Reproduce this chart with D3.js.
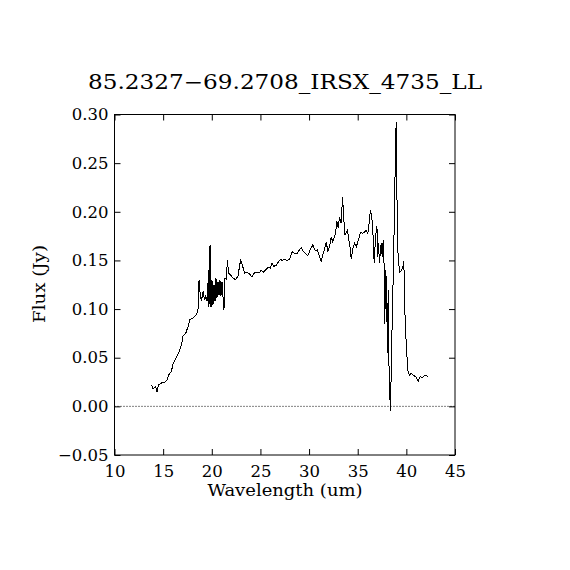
<!DOCTYPE html>
<html>
<head>
<meta charset="utf-8">
<script src="https://cdn.jsdelivr.net/npm/d3@7"></script>
<style>
  html, body { margin: 0; padding: 0; background: #fff; }
  svg text { font-family: "DejaVu Serif", "Liberation Serif", serif; fill: #000; }
</style>
</head>
<body>
<svg id="chart" width="570" height="570"></svg>
<script>
// Spectrum (wavelength in um, flux in Jy)
const wavelength = [
  13.83, 13.96, 14.24, 14.37, 14.52, 14.83, 15.16, 15.40, 15.61, 15.85,
  16.02, 16.37, 16.63, 16.88, 17.04, 17.32, 17.56, 17.73, 18.07, 18.42,
  18.58, 18.69, 18.83, 18.93, 19.10, 19.27, 19.37, 19.51, 19.68, 19.71,
  19.82, 19.92, 20.02, 20.12, 20.23, 20.33, 20.43, 20.53, 20.64, 20.74,
  20.84, 20.94, 21.05, 21.15, 21.25, 21.36, 21.50, 21.60, 21.73, 21.94,
  22.18, 22.45, 22.69, 22.97, 23.14, 23.38, 23.61, 23.89, 24.13, 24.37,
  24.61, 24.85, 25.09, 25.33, 25.60, 25.84, 26.00, 26.18, 26.39, 26.63,
  26.87, 27.04, 27.25, 27.48, 27.72, 28.00, 28.27, 28.51, 28.75, 28.95,
  29.20, 29.43, 29.64, 29.88, 30.12, 30.39, 30.64, 30.84, 31.00, 31.25,
  31.42, 31.60, 31.77, 31.93, 32.10, 32.28, 32.44, 32.55, 32.72, 32.86,
  33.00, 33.13, 33.30, 33.44, 33.54, 33.68, 33.82, 33.95, 34.09, 34.23,
  34.33, 34.50, 34.67, 34.85, 35.01, 35.29, 35.52, 35.70, 35.87, 36.04,
  36.14, 36.31, 36.45, 36.59, 36.69, 36.80, 36.93, 37.00, 37.06, 37.13,
  37.24, 37.34, 37.44, 37.51, 37.62, 37.72, 37.78, 37.88, 37.96, 38.06,
  38.13, 38.23, 38.29, 38.37, 38.44, 38.54, 38.64, 38.71, 38.81, 38.87,
  38.95, 39.01, 39.08, 39.16, 39.34, 39.50, 39.67, 39.74, 39.78, 39.84,
  39.98, 40.15, 40.32, 40.49, 40.73, 41.00, 41.24, 41.42, 41.62, 41.86,
  42.20
];
const flux = [
  0.022, 0.018, 0.020, 0.015, 0.022, 0.024, 0.025, 0.027, 0.033, 0.036,
  0.044, 0.051, 0.056, 0.063, 0.072, 0.075, 0.082, 0.089, 0.091, 0.094,
  0.099, 0.130, 0.113, 0.108, 0.118, 0.109, 0.114, 0.108, 0.140, 0.102,
  0.166, 0.102, 0.130, 0.104, 0.125, 0.108, 0.132, 0.111, 0.128, 0.114,
  0.130, 0.113, 0.128, 0.113, 0.099, 0.132, 0.131, 0.150, 0.137, 0.135,
  0.132, 0.130, 0.134, 0.151, 0.145, 0.137, 0.138, 0.136, 0.133, 0.137,
  0.138, 0.137, 0.140, 0.138, 0.141, 0.143, 0.142, 0.147, 0.144, 0.145,
  0.149, 0.151, 0.150, 0.151, 0.150, 0.151, 0.159, 0.157, 0.157, 0.160,
  0.163, 0.159, 0.157, 0.155, 0.161, 0.166, 0.160, 0.161, 0.156, 0.149,
  0.156, 0.162, 0.169, 0.159, 0.164, 0.174, 0.169, 0.173, 0.178, 0.190,
  0.183, 0.195, 0.188, 0.215, 0.198, 0.176, 0.179, 0.181, 0.171, 0.162,
  0.152, 0.162, 0.168, 0.164, 0.169, 0.179, 0.178, 0.179, 0.181, 0.178,
  0.185, 0.202, 0.195, 0.174, 0.147, 0.168, 0.185, 0.181, 0.154, 0.168,
  0.147, 0.162, 0.168, 0.154, 0.171, 0.142, 0.085, 0.140, 0.123, 0.055,
  0.120, 0.031, 0.013, -0.005, 0.034, 0.085, 0.130, 0.164, 0.220, 0.257,
  0.292, 0.233, 0.185, 0.150, 0.138, 0.140, 0.144, 0.149, 0.130, 0.099,
  0.065, 0.037, 0.032, 0.034, 0.032, 0.030, 0.026, 0.031, 0.029, 0.032,
  0.031
];

const xTicks = [10, 15, 20, 25, 30, 35, 40, 45];
const yTicks = [-0.05, 0.00, 0.05, 0.10, 0.15, 0.20, 0.25, 0.30];

const title = '85.2327\u221269.2708_IRSX_4735_LL';
const xLabel = 'Wavelength (um)';
const yLabel = 'Flux (Jy)';

const margin = { top: 114.5, right: 115, bottom: 115, left: 114.5 };
const W = 570, H = 570;
const width = W - margin.left - margin.right;
const height = H - margin.top - margin.bottom;

const x = d3.scaleLinear().domain([10, 45]).range([0, width]);
const y = d3.scaleLinear().domain([-0.05, 0.30]).range([height, 0]);

const svg = d3.select('#chart');
const g = svg.append('g').attr('transform', `translate(${margin.left},${margin.top})`);

const tickLen = 6;
const fmtY = d => (d < 0 ? '\u2212' : '') + Math.abs(d).toFixed(2);

// Inward ticks on all four sides
g.append('g').attr('transform', `translate(0,${height})`)
  .call(d3.axisBottom(x).tickValues(xTicks).tickSize(-tickLen).tickPadding(10).tickFormat(d3.format('d')))
  .call(ax => ax.select('.domain').remove())
  .call(ax => ax.selectAll('line').attr('stroke', '#000'))
  .call(ax => ax.selectAll('text').attr('font-size', 16.5).attr('dy', '0.75em'));

g.append('g')
  .call(d3.axisTop(x).tickValues(xTicks).tickSize(-tickLen).tickFormat(''))
  .call(ax => ax.select('.domain').remove())
  .call(ax => ax.selectAll('line').attr('stroke', '#000'));

g.append('g')
  .call(d3.axisLeft(y).tickValues(yTicks).tickSize(-tickLen).tickPadding(6).tickFormat(fmtY))
  .call(ax => ax.select('.domain').remove())
  .call(ax => ax.selectAll('line').attr('stroke', '#000'))
  .call(ax => ax.selectAll('text').attr('font-size', 16.5));

g.append('g').attr('transform', `translate(${width},0)`)
  .call(d3.axisRight(y).tickValues(yTicks).tickSize(-tickLen).tickFormat(''))
  .call(ax => ax.select('.domain').remove())
  .call(ax => ax.selectAll('line').attr('stroke', '#000'));

// Frame
g.append('rect')
  .attr('width', width).attr('height', height)
  .attr('fill', 'none').attr('stroke', '#000').attr('stroke-width', 1);

// Zero line
g.append('line')
  .attr('x1', 0).attr('x2', width)
  .attr('y1', y(0)).attr('y2', y(0))
  .attr('stroke', '#000').attr('stroke-width', 1)
  .attr('stroke-dasharray', '1,2');

// Spectrum
const pts = wavelength.map((w, i) => [w, flux[i]]);
g.append('path')
  .datum(pts)
  .attr('fill', 'none')
  .attr('stroke', '#000')
  .attr('stroke-width', 1)
  .attr('shape-rendering', 'crispEdges')
  .attr('d', d3.line().x(d => x(d[0])).y(d => y(d[1])));

// Title and axis labels
svg.append('text')
  .attr('x', 285).attr('y', 89)
  .attr('text-anchor', 'middle').attr('font-size', 20)
  .attr('textLength', 394).attr('lengthAdjust', 'spacingAndGlyphs')
  .text(title);

svg.append('text')
  .attr('x', 285).attr('y', 496)
  .attr('text-anchor', 'middle').attr('font-size', 16)
  .attr('textLength', 155).attr('lengthAdjust', 'spacingAndGlyphs')
  .text(xLabel);

svg.append('text')
  .attr('transform', 'translate(45,284) rotate(-90)')
  .attr('text-anchor', 'middle').attr('font-size', 16)
  .attr('textLength', 78).attr('lengthAdjust', 'spacingAndGlyphs')
  .text(yLabel);
</script>
</body>
</html>
